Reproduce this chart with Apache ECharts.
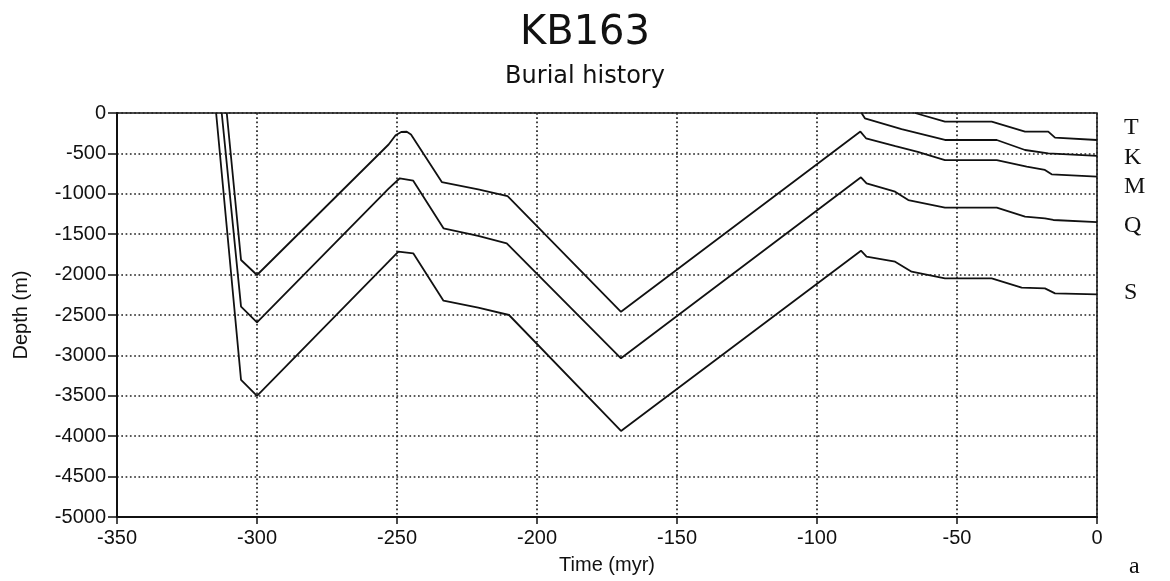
<!DOCTYPE html>
<html>
<head>
<meta charset="utf-8">
<script src="https://cdn.jsdelivr.net/npm/echarts@6/dist/echarts.min.js"></script>
<style>
html,body{margin:0;padding:0;background:#fff;}
#chart{width:1170px;height:581px;}
</style>
</head>
<body>
<div id="chart"></div>
<script>
// ---- data (time in myr, depth in m) ----
const horizonNames = ['T', 'K', 'M', 'Q', 'S'];
const xTicks = [-350, -300, -250, -200, -150, -100, -50, 0];
const yTicks = [0, -500, -1000, -1500, -2000, -2500, -3000, -3500, -4000, -4500, -5000];

const timeT  = [-65, -54.3, -37.6, -25.7, -17.4, -15, 0];
const depthT = [0, -107, -107, -231, -231, -305, -334];

const timeK  = [-84.1, -82.9, -69.8, -54.3, -35.8, -25.7, -17.4, 0];
const depthK = [0, -66, -200, -334, -334, -458, -499, -530];

const timeM  = [-310.8, -305.7, -300, -253, -250.5, -248.5, -246.5, -245, -234, -221, -210.5, -170, -84.5, -82.5, -72, -64, -54.3, -35.8, -25.1, -18.6, -16.2, 0];
const depthM = [0, -1819, -2005, -390, -275, -235, -232, -265, -855, -945, -1030, -2460, -230, -313, -410, -480, -582, -582, -664, -705, -759, -788];

const timeQ  = [-312.6, -305.7, -300, -253, -249, -244.2, -233.4, -221, -210.8, -170, -84.3, -82.3, -72.1, -67.4, -54.3, -35.8, -25.7, -18.6, -15.6, 0];
const depthQ = [0, -2397, -2590, -935, -808, -838, -1427, -1520, -1613, -3036, -796, -870, -974, -1077, -1172, -1172, -1283, -1304, -1324, -1350];

const timeS  = [-314.6, -305.7, -300, -253, -249.5, -244.2, -233.4, -221, -210, -170, -84.3, -82.3, -72.1, -66.2, -54.3, -37.6, -26.9, -18.6, -15, 0];
const depthS = [0, -3304, -3500, -1840, -1716, -1737, -2323, -2410, -2500, -3935, -1704, -1778, -1840, -1964, -2046, -2046, -2162, -2170, -2232, -2244];

// label depth positions for right-side horizon labels
const labelDepths = [-198, -569, -928, -1411, -2240];

function pairs(t, d) { return t.map((v, i) => [v, d[i]]); }

const chart = echarts.init(document.getElementById('chart'));
const seriesData = [
  pairs(timeT, depthT), pairs(timeK, depthK), pairs(timeM, depthM),
  pairs(timeQ, depthQ), pairs(timeS, depthS)
];

const gridLeft = 117, gridRight = 73, gridTop = 113, gridBottom = 64;

const option = {
  backgroundColor: '#ffffff',
  animation: false,
  title: {
    text: 'KB163',
    subtext: 'Burial history',
    left: 'center',
    top: 9,
    itemGap: 11,
    textStyle: { fontFamily: 'DejaVu Sans', fontSize: 40, fontWeight: 'normal', color: '#111' },
    subtextStyle: { fontFamily: 'DejaVu Sans', fontSize: 24, color: '#111' }
  },
  grid: {
    left: gridLeft, right: gridRight, top: gridTop, bottom: gridBottom,
    show: true, borderColor: '#111', borderWidth: 1.5, backgroundColor: 'transparent'
  },
  xAxis: {
    type: 'value', min: -350, max: 0, interval: 50,
    name: 'Time (myr)', nameLocation: 'middle', nameGap: 38,
    nameTextStyle: { fontFamily: 'Liberation Sans', fontSize: 20, color: '#111' },
    axisLine: { show: true, onZero: false, lineStyle: { color: '#111', width: 2 } },
    axisTick: { show: true, length: 7, lineStyle: { color: '#111', width: 1.5 } },
    axisLabel: { fontFamily: 'Liberation Sans', fontSize: 20, color: '#111', margin: 11,
      formatter: v => xTicks.includes(v) ? String(v) : '' },
    splitLine: { show: true, lineStyle: { color: '#222', width: 1.7, type: [1.7, 2.6] } }
  },
  yAxis: {
    type: 'value', min: -5000, max: 0, interval: 500,
    name: 'Depth (m)', nameLocation: 'middle', nameGap: 86, nameRotate: 90,
    nameTextStyle: { fontFamily: 'Liberation Sans', fontSize: 20, color: '#111' },
    axisLine: { show: true, onZero: false, lineStyle: { color: '#111', width: 2 } },
    axisTick: { show: true, length: 9, lineStyle: { color: '#111', width: 1.5 } },
    axisLabel: { fontFamily: 'Liberation Sans', fontSize: 20, color: '#111', margin: 11,
      formatter: v => yTicks.includes(v) ? String(v) : '' },
    splitLine: { show: true, lineStyle: { color: '#222', width: 1.7, type: [1.7, 2.6] } }
  },
  series: horizonNames.map((n, i) => ({
    name: n,
    type: 'line',
    data: seriesData[i],
    showSymbol: false,
    symbol: 'none',
    clip: true,
    lineStyle: { color: '#111', width: 1.8 },
    z: 5
  }))
};

chart.setOption(option);

// right-hand horizon labels placed at their depth through the axis scale
const xRight = chart.convertToPixel({ gridIndex: 0 }, [0, 0])[0];
const graphics = horizonNames.map((n, i) => {
  const y = chart.convertToPixel({ gridIndex: 0 }, [0, labelDepths[i]])[1];
  return {
    type: 'text', left: xRight + 27, top: y - 13,
    style: { text: n, font: '24px "Liberation Serif"', fill: '#111' }
  };
});
graphics.push({
  type: 'text', left: 1129, top: 555,
  style: { text: 'a', font: '24px "Liberation Serif"', fill: '#111' }
});
chart.setOption({ graphic: graphics });
</script>
</body>
</html>
